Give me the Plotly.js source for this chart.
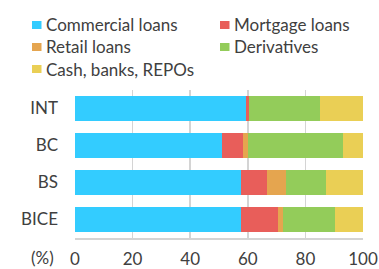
<!DOCTYPE html>
<html>
<head>
<meta charset="utf-8">
<script src="https://cdn.plot.ly/plotly-3.0.1.min.js"></script>
<style>html,body{margin:0;padding:0;background:#fff;}#chart{width:379px;height:269px;}</style>
</head>
<body>
<div id="chart"></div>
<script>
var banks = ["INT", "BC", "BS", "BICE"];
var seriesNames = ["Commercial loans", "Mortgage loans", "Retail loans", "Derivatives", "Cash, banks, REPOs"];
var seriesColors = ["#33CCFF", "#E85E5A", "#E5A54F", "#93CC5A", "#EACF55"];
var commercial = [59.4, 51.2, 57.5, 57.8];
var mortgage = [1.1, 7.2, 9.1, 12.7];
var retail = [0.0, 1.8, 6.5, 1.8];
var derivatives = [24.5, 33.0, 13.9, 18.1];
var cash = [15.0, 6.8, 13.0, 9.6];
var xTicks = [0, 20, 40, 60, 80, 100];

var values = [commercial, mortgage, retail, derivatives, cash];
var traces = values.map(function (v, i) {
  return {
    type: "bar", orientation: "h", x: v, y: banks, name: seriesNames[i],
    marker: {color: seriesColors[i], line: {width: 0}}, showlegend: false,
    hoverinfo: "x+name"
  };
});

var L = 75, R = 16, T = 90, B = 31, W = 379, H = 269;
var pw = W - L - R, ph = H - T - B;
function px(x) { return (x - L) / pw; }
function py(y) { return (H - B - y) / ph; }

var FS = 17;
var legendPos = [[32, 25], [220, 25], [32, 47], [220, 47], [32, 69]];
var shapes = [], annotations = [];
seriesNames.forEach(function (n, i) {
  var p = legendPos[i];
  shapes.push({type: "rect", xref: "paper", yref: "paper",
    x0: px(p[0]), x1: px(p[0] + 9.5), y0: py(p[1] - 4), y1: py(p[1] + 4),
    fillcolor: seriesColors[i], line: {width: 0}});
  annotations.push({xref: "paper", yref: "paper", x: px(p[0] + 11.5), y: py(p[1]),
    xanchor: "left", yanchor: "middle", text: n, showarrow: false,
    font: {family: "Lato", size: FS, color: "#404040"}});
});
annotations.push({xref: "paper", yref: "paper", x: px(56), y: py(257),
  xanchor: "right", yanchor: "middle", text: "(%)", showarrow: false,
  font: {family: "Lato", size: FS, color: "#404040"}});

var layout = {
  width: W, height: H, barmode: "stack", bargap: 0.3,
  margin: {l: L, r: R, t: T, b: B, pad: 0},
  paper_bgcolor: "#fff", plot_bgcolor: "#fff",
  font: {family: "Lato", size: FS, color: "#404040"},
  showlegend: false,
  xaxis: {range: [0, 100], tickvals: xTicks, ticktext: xTicks.map(String),
    showgrid: true, gridcolor: "#d4d4d4", gridwidth: 1.5, zeroline: false,
    showline: true, linecolor: "#d4d4d4", linewidth: 1.5, ticks: "",
    ticklabelstandoff: 5, fixedrange: true},
  yaxis: {categoryorder: "array", categoryarray: banks, autorange: "reversed",
    showgrid: false, zeroline: false, showline: false, ticks: "",
    ticklabelstandoff: 16, fixedrange: true},
  shapes: shapes, annotations: annotations
};
Plotly.newPlot("chart", traces, layout, {displayModeBar: false, staticPlot: true});
</script>
</body>
</html>
